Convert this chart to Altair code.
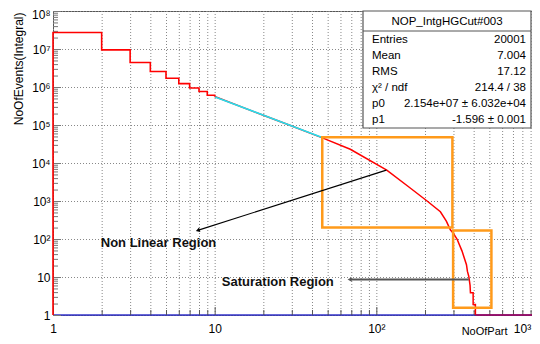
import altair as alt
import pandas as pd

# ---------------- data ----------------
# integral histogram, bins of width 1 from 1 to 10 (step drawing)
hist_x = [1, 1, 2, 3, 4, 5, 6, 7, 8, 9, 10]
hist_y = [1, 2.72e7, 9.46e6, 4.4e6, 2.55e6, 1.7e6, 1.23e6, 9.4e5, 7.6e5, 6.04e5, 5.6e5]

# fine-binned part of the same histogram (x >= 10)
tail_x = [10, 20, 30, 46, 69, 116, 162, 206, 249, 271, 287, 300, 316, 339, 361, 366, 373, 380, 382, 397, 397, 410, 410]
tail_y = [5.6e5, 1.8e5, 9.4e4, 4.66e4, 2.3e4, 6.5e3, 2.2e3, 1.0e3, 520, 296, 175, 140, 98, 48, 21, 14, 10.5, 6.0, 3.85, 3.85, 1.9, 1.9, 1.0]

# power-law fit drawn in cyan
fit_x = [10.07, 46.2]
fit_y = [5.47e5, 4.66e4]

# bottom lines (blue histogram at 1, empty red bins beyond the end)
base_x = [1, 1000]
base_y = [1, 1]
over_x = [410, 1000]
over_y = [1, 1]

# orange region boxes
box_x1 = [46.3, 298.5]
box_x2 = [295.5, 515]
box_y1 = [202, 1.55]
box_y2 = [4.74e4, 168]

# arrows
arrow_x1 = [115.3, 373]
arrow_y1 = [6.5e3, 8.6]
arrow_x2 = [7.94, 69]
arrow_y2 = [171, 8.6]
arrow_angle = [252, 270]
arrow_color = ["#000000", "#555555"]
arrow_width = [1.1, 1.8]

# annotation texts
note_text = ["Non Linear Region", "Saturation Region"]
note_x = [1.974, 11.08]
note_y = [76.5, 7.49]

# stats box
stats_title = "NOP_IntgHGCut#003"
stat_names = ["Entries", "Mean", "RMS", "\u03c7\u00b2 / ndf", "p0", "p1"]
stat_values = ["20001", "7.004", "17.12", "214.4 / 38", "2.154e+07 \u00b1 6.032e+04", "-1.596 \u00b1 0.001"]

# axis ticks
x_major = [1, 10, 100, 1000]
x_minor = [d * k for d in [1, 10, 100] for k in range(2, 10)]
y_major = [10 ** i for i in range(0, 9)]
y_minor = [10 ** i * k for i in range(0, 8) for k in range(2, 10)]

# ---------------- chart ----------------
W, H = 485, 304
FONT = "Liberation Sans"
GRID = "#888888"

xscale = alt.Scale(type="log", domain=[1, 1000], nice=False)
yscale = alt.Scale(type="log", domain=[1, 1e8], nice=False)

x_axis = alt.Axis(
    values=x_major,
    labelExpr="datum.value == 1 ? '1' : datum.value == 10 ? '10' : datum.value == 100 ? '10\u00b2' : '10\u00b3'",
    labelOffset={"condition": {"test": "datum.value > 500", "value": -16}, "value": 0},
    grid=False, ticks=False, tickSize=0, domain=False,
    labelOverlap=False, labelFlush=False, labelBound=False,
    labelFont=FONT, labelFontSize=12, labelColor="#000", labelPadding=8,
    title="NoOfPart", titleFont=FONT, titleFontSize=11, titleFontWeight="normal",
    titleColor="#000", titleAnchor="end", titleAlign="right", titleBaseline="middle",
    titleX=454, titleY=16,
)

y_axis = alt.Axis(
    values=y_major,
    labelExpr="datum.value < 5 ? '1' : datum.value < 50 ? '10' : '10' + ['', '', '\u00b2', '\u00b3', '\u2074', '\u2075', '\u2076', '\u2077', '\u2078'][round(log(datum.value) / LN10)]",
    labelOffset={"condition": {"test": "datum.value > 5e7", "value": 3}, "value": 0},
    grid=False, ticks=False, tickSize=0, domain=False,
    labelOverlap=False, labelFlush=False, labelBound=False,
    labelFont=FONT, labelFontSize=12, labelColor="#000", labelPadding=3,
    title="NoOfEvents(Integral)", titleFont=FONT, titleFontSize=12, titleFontWeight="normal",
    titleColor="#000", titleAngle=270, titleAlign="right", titleBaseline="middle",
    titleX=-35, titleY=1,
)


def X(field):
    return alt.X(field, type="quantitative", scale=xscale, axis=x_axis)


def Y(field):
    return alt.Y(field, type="quantitative", scale=yscale, axis=y_axis)


hist_df = pd.DataFrame({"x": hist_x, "y": hist_y, "i": range(len(hist_x))})
tail_df = pd.DataFrame({"x": tail_x, "y": tail_y, "i": range(len(tail_x))})
fit_df = pd.DataFrame({"x": fit_x, "y": fit_y})
base_df = pd.DataFrame({"x": base_x, "y": base_y})
over_df = pd.DataFrame({"x": over_x, "y": over_y})
box_df = pd.DataFrame({"x1": box_x1, "x2": box_x2, "y1": box_y1, "y2": box_y2})
arrow_df = pd.DataFrame({"x1": arrow_x1, "y1": arrow_y1, "x2": arrow_x2, "y2": arrow_y2,
                         "angle": arrow_angle, "color": arrow_color, "w": arrow_width})
note_df = pd.DataFrame({"t": note_text, "x": note_x, "y": note_y})
xg_df = pd.DataFrame({"x": x_major + x_minor})
yg_df = pd.DataFrame({"y": y_major})

# dotted grid (vertical at every tick, horizontal at decades)
grid_v = alt.Chart(xg_df).mark_rule(color=GRID, strokeWidth=1, strokeDash=[1, 2], xOffset=0.5).encode(
    x=X("x"), y=alt.value(0), y2=alt.value(H))
grid_h = alt.Chart(yg_df).mark_rule(color=GRID, strokeWidth=1, strokeDash=[1, 2], yOffset=0.5).encode(
    y=Y("y"), x=alt.value(0), x2=alt.value(W))

base_line = alt.Chart(base_df).mark_line(color="#3535cc", strokeWidth=1.5).encode(
    x=X("x"), y=Y("y"))

xt_major = alt.Chart(pd.DataFrame({"x": x_major})).mark_rule(color="#555", strokeWidth=1, xOffset=0.5).encode(
    x=X("x"), y=alt.value(H), y2=alt.value(H - 8))
xt_minor = alt.Chart(pd.DataFrame({"x": x_minor})).mark_rule(color="#555", strokeWidth=1, xOffset=0.5).encode(
    x=X("x"), y=alt.value(H), y2=alt.value(H - 5))
yt_major = alt.Chart(pd.DataFrame({"y": y_major})).mark_rule(color="#777", strokeWidth=1, yOffset=0.5).encode(
    y=Y("y"), x=alt.value(0), x2=alt.value(8))
yt_minor = alt.Chart(pd.DataFrame({"y": y_minor})).mark_rule(color="#777", strokeWidth=1, yOffset=0.5).encode(
    y=Y("y"), x=alt.value(0), x2=alt.value(5))

hist_line = alt.Chart(hist_df).mark_line(color="#ff0000", strokeWidth=1.6, interpolate="step-after").encode(
    x=X("x"), y=Y("y"), order="i:Q")
tail_line = alt.Chart(tail_df).mark_line(color="#ff0000", strokeWidth=1.5).encode(
    x=X("x"), y=Y("y"), order="i:Q")
over_line = alt.Chart(over_df).mark_line(color="#a8004f", strokeWidth=1.5).encode(
    x=X("x"), y=Y("y"))
fit_line = alt.Chart(fit_df).mark_line(color="#22e0f0", strokeWidth=1.6).encode(
    x=X("x"), y=Y("y"))

boxes = alt.Chart(box_df).mark_rect(fill=None, stroke="#ff9a1a", strokeWidth=2.5).encode(
    x=X("x1"), x2="x2", y=Y("y1"), y2="y2")

arrow_lines = alt.Chart(arrow_df).mark_rule().encode(
    x=X("x1"), y=Y("y1"), x2="x2", y2="y2",
    color=alt.Color("color:N", scale=None),
    strokeWidth=alt.StrokeWidth("w:Q", scale=None))
arrow_heads = alt.Chart(arrow_df).mark_point(shape="triangle", filled=True, size=22, opacity=1).encode(
    x=X("x2"), y=Y("y2"), angle=alt.Angle("angle:Q", scale=None),
    color=alt.Color("color:N", scale=None))

notes = alt.Chart(note_df).mark_text(font=FONT, fontSize=13, fontWeight="bold", align="left",
                                     baseline="middle", color="#111").encode(
    x=X("x"), y=Y("y"), text="t:N")

# stats box (pixel positions inside the plot area)
one = pd.DataFrame({"a": [0]})
BX1, BX2, BY1, BY2 = 310, 478, 0, 117
stat_layers = [
    alt.Chart(one).mark_rect(fill="white", stroke="#555", strokeWidth=1.2).encode(
        x=alt.value(BX1), x2=alt.value(BX2), y=alt.value(BY1), y2=alt.value(BY2)),
    alt.Chart(one).mark_rule(color="#555", strokeWidth=1).encode(
        x=alt.value(BX1), x2=alt.value(BX2), y=alt.value(20)),
    alt.Chart(one).mark_text(font=FONT, fontSize=11.5, align="center", baseline="middle", color="#000").encode(
        x=alt.value((BX1 + BX2) / 2), y=alt.value(10.5), text=alt.value(stats_title)),
]
for i, (n, v) in enumerate(zip(stat_names, stat_values)):
    yy = 28.5 + 16.1 * i
    stat_layers.append(alt.Chart(one).mark_text(font=FONT, fontSize=11.5, align="left", baseline="middle", color="#000").encode(
        x=alt.value(319), y=alt.value(yy), text=alt.value(n)))
    stat_layers.append(alt.Chart(one).mark_text(font=FONT, fontSize=11.5, align="right", baseline="middle", color="#000").encode(
        x=alt.value(473), y=alt.value(yy), text=alt.value(v)))

chart = alt.layer(
    grid_v, grid_h, base_line, xt_major, xt_minor, yt_major, yt_minor,
    hist_line, tail_line, over_line, fit_line,
    boxes, arrow_lines, arrow_heads, notes, *stat_layers
).properties(
    width=W, height=H,
    autosize=alt.AutoSizeParams(type="none"),
    padding={"left": 45, "top": 3, "right": -6, "bottom": 21},
    background="white",
).configure_view(stroke="#555", strokeWidth=1)

chart.save("out.html", embed_options={"renderer": "svg", "actions": False})
